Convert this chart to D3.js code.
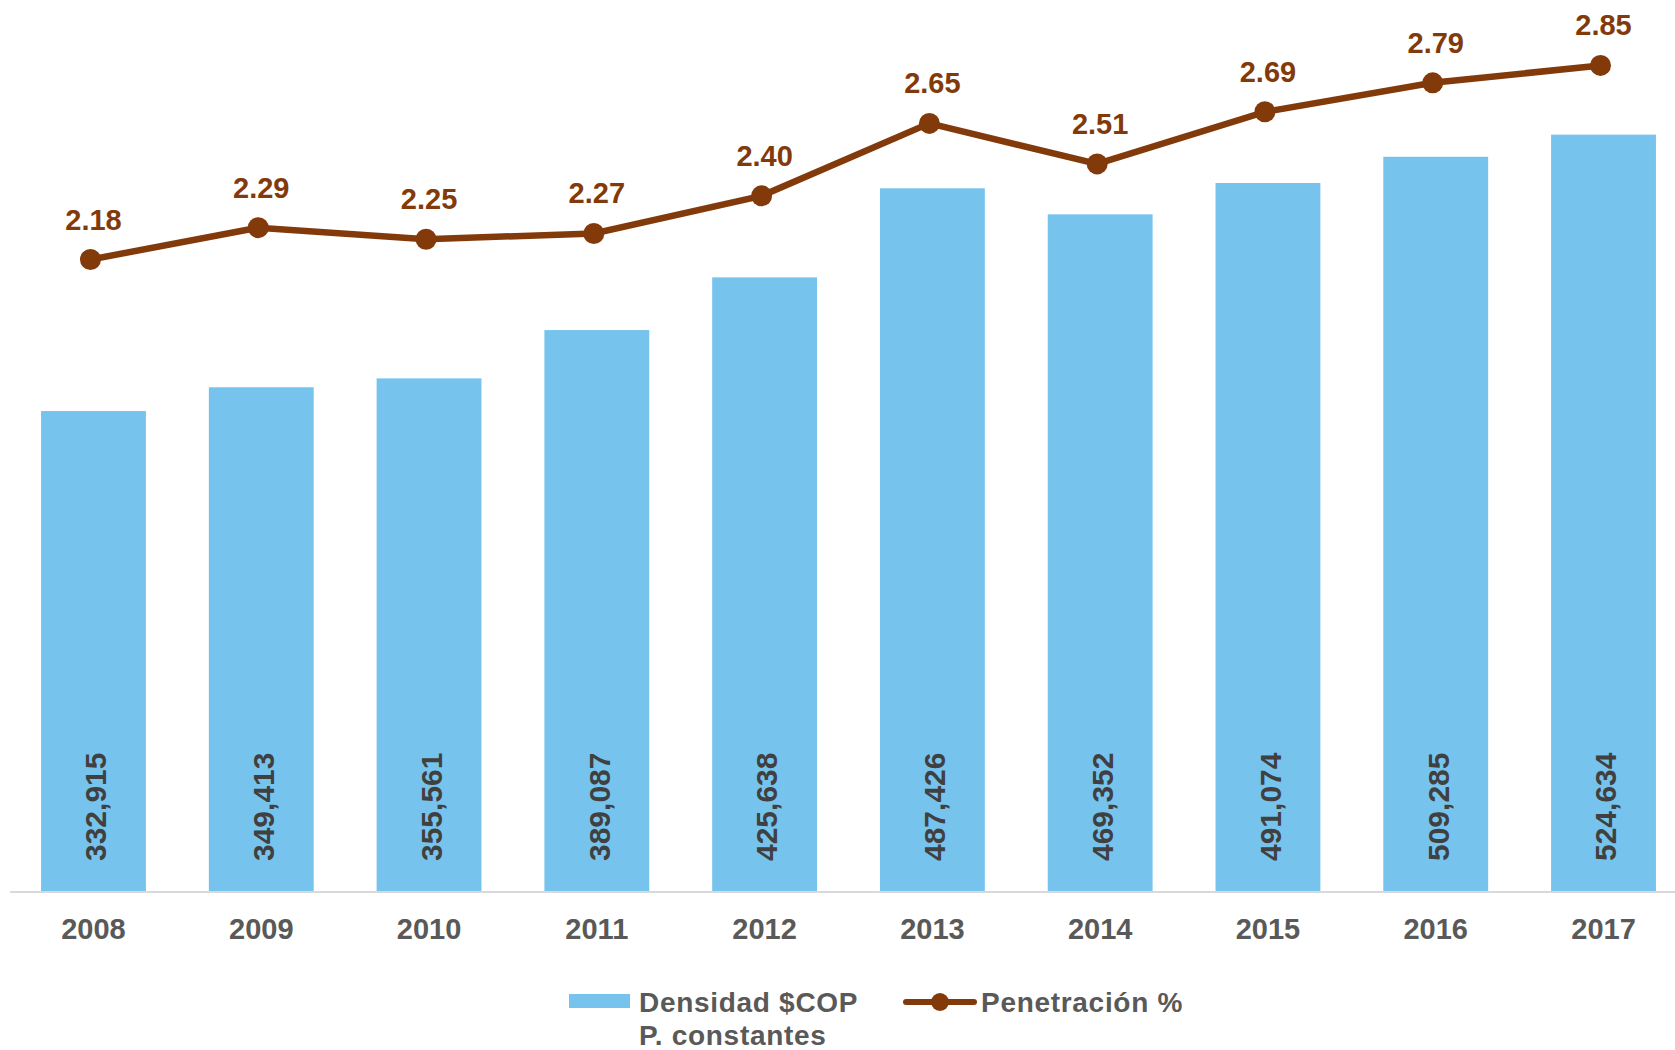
<!DOCTYPE html>
<html>
<head>
<meta charset="utf-8">
<script src="https://cdn.jsdelivr.net/npm/d3@7"></script>
<style>
  body { margin: 0; background: #fff; }
  svg { display: block; font-family: "Liberation Sans", Arial, sans-serif; font-weight: bold; }
</style>
</head>
<body>
<svg class="chart" width="1675" height="1050"></svg>
<script>
var years = ["2008", "2009", "2010", "2011", "2012", "2013", "2014", "2015", "2016", "2017"];
var densidad = [332915, 349413, 355561, 389087, 425638, 487426, 469352, 491074, 509285, 524634];
var penetracion = [2.18, 2.29, 2.25, 2.27, 2.40, 2.65, 2.51, 2.69, 2.79, 2.85];

var blue = "#76C4EE",
    brown = "#823A0B",
    grey = "#595959";

var svg = d3.select("svg.chart"),
    baseY = 891;

var x = d3.scaleBand()
    .domain(years)
    .range([9.6, 1687.4])
    .paddingInner(0.375)
    .paddingOuter(0.1875);

var yBar = d3.scaleLinear().domain([0, 600000]).range([baseY, 26]);
var yLine = d3.scaleLinear().domain([0, 3]).range([baseY, 22]);

var fmt = d3.format(",d");
function cx(d) { return x(d) + x.bandwidth() / 2; }

// bars
svg.append("g").selectAll("rect")
  .data(years)
  .enter().append("rect")
    .attr("x", function(d) { return x(d); })
    .attr("y", function(d, i) { return yBar(densidad[i]); })
    .attr("width", x.bandwidth())
    .attr("height", function(d, i) { return baseY - yBar(densidad[i]); })
    .attr("fill", blue);

// baseline
svg.append("line")
  .attr("x1", 10).attr("x2", 1675)
  .attr("y1", baseY + 1).attr("y2", baseY + 1)
  .attr("stroke", "#D9D9D9").attr("stroke-width", 2);

// bar values (rotated)
svg.append("g").selectAll("text")
  .data(years)
  .enter().append("text")
    .attr("transform", function(d) { return "translate(" + (cx(d) + 2) + "," + 861 + ") rotate(-90)"; })
    .attr("dy", "0.36em")
    .attr("font-size", 30)
    .attr("fill", "#404040")
    .text(function(d, i) { return fmt(densidad[i]); });

// year labels
svg.append("g").selectAll("text")
  .data(years)
  .enter().append("text")
    .attr("x", cx)
    .attr("y", 939)
    .attr("text-anchor", "middle")
    .attr("font-size", 29)
    .attr("fill", grey)
    .text(function(d) { return d; });

// line
var line = d3.line()
  .x(function(d, i) { return cx(years[i]) - 3; })
  .y(function(d) { return yLine(d); });

svg.append("path")
  .datum(penetracion)
  .attr("d", line)
  .attr("fill", "none")
  .attr("stroke", brown)
  .attr("stroke-width", 6.5);

svg.append("g").selectAll("circle")
  .data(penetracion)
  .enter().append("circle")
    .attr("cx", function(d, i) { return cx(years[i]) - 3; })
    .attr("cy", function(d) { return yLine(d); })
    .attr("r", 10.5)
    .attr("fill", brown);

svg.append("g").selectAll("text")
  .data(penetracion)
  .enter().append("text")
    .attr("x", function(d, i) { return cx(years[i]); })
    .attr("y", function(d) { return yLine(d) - 30; })
    .attr("text-anchor", "middle")
    .attr("font-size", 29)
    .attr("fill", brown)
    .text(function(d) { return d.toFixed(2); });

// legend
var lg = svg.append("g").attr("font-size", 28).attr("fill", grey).attr("letter-spacing", 0.7);
lg.append("rect")
  .attr("x", 569).attr("y", 994).attr("width", 61).attr("height", 14)
  .attr("fill", blue);
lg.append("text").attr("x", 639).attr("y", 1012).text("Densidad $COP");
lg.append("text").attr("x", 639).attr("y", 1045).text("P. constantes");

lg.append("line")
  .attr("x1", 906).attr("x2", 974).attr("y1", 1002).attr("y2", 1002)
  .attr("stroke", brown).attr("stroke-width", 6).attr("stroke-linecap", "round");
lg.append("circle").attr("cx", 940).attr("cy", 1002).attr("r", 9).attr("fill", brown);
lg.append("text").attr("x", 981).attr("y", 1012).text("Penetración %");
</script>
</body>
</html>
